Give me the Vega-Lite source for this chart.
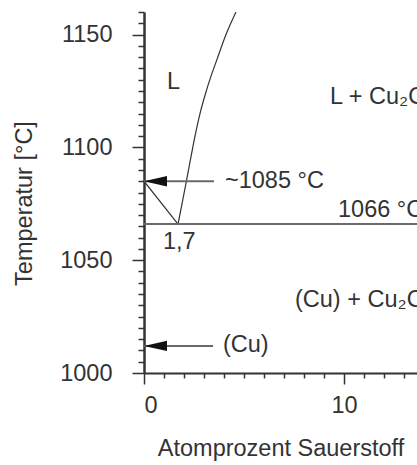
{
  "$schema": "https://vega.github.io/schema/vega-lite/v6.json",
  "width": 273,
  "height": 361,
  "autosize": "none",
  "padding": {"left": 144, "top": 12, "right": 0, "bottom": 92},
  "background": "white",
  "config": {"view": {"stroke": null}, "font": "Liberation Sans", "text": {"font": "Liberation Sans"}},
  "datasets": {
    "thin": [
      {"line": "liquidus", "o": 1, "x": 1.7, "t": 1066},
      {"line": "liquidus", "o": 2, "x": 1.9, "t": 1075},
      {"line": "liquidus", "o": 3, "x": 2.12, "t": 1085},
      {"line": "liquidus", "o": 4, "x": 2.31, "t": 1094},
      {"line": "liquidus", "o": 5, "x": 2.55, "t": 1105},
      {"line": "liquidus", "o": 6, "x": 2.8, "t": 1115},
      {"line": "liquidus", "o": 7, "x": 3.08, "t": 1124},
      {"line": "liquidus", "o": 8, "x": 3.33, "t": 1131},
      {"line": "liquidus", "o": 9, "x": 3.65, "t": 1139},
      {"line": "liquidus", "o": 10, "x": 4.1, "t": 1150},
      {"line": "liquidus", "o": 11, "x": 4.6, "t": 1160},
      {"line": "solidus", "o": 1, "x": 0, "t": 1085},
      {"line": "solidus", "o": 2, "x": 1.7, "t": 1066}
    ],
    "thick": [
      {"line": "eutectic", "o": 1, "x": 0, "t": 1066},
      {"line": "eutectic", "o": 2, "x": 13.65, "t": 1066},
      {"line": "arrow1085", "o": 1, "x": 0, "t": 1085},
      {"line": "arrow1085", "o": 2, "x": 3.5, "t": 1085},
      {"line": "arrowCu", "o": 1, "x": 0, "t": 1012},
      {"line": "arrowCu", "o": 2, "x": 3.45, "t": 1012}
    ],
    "heads": [
      {"x": 0, "t": 1085},
      {"x": 0, "t": 1012}
    ],
    "labels": [
      {"x": 1.15, "t": 1129, "label": "L"},
      {"x": 9.3, "t": 1122.3, "label": "L + Cu₂O"},
      {"x": 4.05, "t": 1085, "label": "~1085 °C"},
      {"x": 9.7, "t": 1072.3, "label": "1066 °C"},
      {"x": 0.95, "t": 1058, "label": "1,7"},
      {"x": 7.55, "t": 1032.4, "label": "(Cu) + Cu₂O"},
      {"x": 3.95, "t": 1012.4, "label": "(Cu)"}
    ]
  },
  "layer": [
    {
      "data": {"name": "thin"},
      "mark": {"type": "line", "color": "#333333", "strokeWidth": 1.2, "clip": true, "interpolate": "monotone"},
      "encoding": {
        "x": {"field": "x", "type": "quantitative", "scale": {"domain": [0, 13.65], "nice": false, "zero": false},
          "axis": {"orient": "bottom", "title": "Atomprozent Sauerstoff", "values": [0, 10], "format": "d", "grid": false,
            "domainColor": "#333333", "domainWidth": 2, "tickColor": "#333333", "tickWidth": 1.5, "tickSize": 11,
            "labelFontSize": 23.5, "labelColor": "#333333", "labelPadding": 9, "labelFont": "Liberation Sans",
            "titleFontSize": 23.5, "titleFontWeight": "normal", "titleColor": "#333333", "titlePadding": 20, "titleFont": "Liberation Sans"}},
        "y": {"field": "t", "type": "quantitative", "scale": {"domain": [1000, 1160], "nice": false, "zero": false},
          "axis": {"orient": "left", "title": "Temperatur [°C]", "values": [1000, 1050, 1100, 1150], "format": "d", "grid": false,
            "domainColor": "#333333", "domainWidth": 2.5, "tickColor": "#333333", "tickWidth": 1.5, "tickSize": 12,
            "labelFontSize": 23.5, "labelColor": "#333333", "labelPadding": 20, "labelFont": "Liberation Sans",
            "titleFontSize": 23.5, "titleFontWeight": "normal", "titleColor": "#333333", "titlePadding": 23, "titleY": 191, "titleFont": "Liberation Sans"}},
        "detail": {"field": "line"},
        "order": {"field": "o"}
      }
    },
    {
      "data": {"name": "thick"},
      "mark": {"type": "line", "color": "#6a6a6a", "strokeWidth": 2, "clip": true},
      "encoding": {
        "x": {"field": "x", "type": "quantitative",
          "axis": {"orient": "bottom", "title": null, "values": [1, 2, 3, 4, 5, 6, 7, 8, 9, 11, 12, 13], "labels": false, "domain": false, "grid": false,
            "tickColor": "#333333", "tickWidth": 1.5, "tickSize": 5}},
        "y": {"field": "t", "type": "quantitative",
          "axis": {"orient": "left", "title": null, "values": [1005, 1010, 1015, 1020, 1025, 1030, 1035, 1040, 1045, 1055, 1060, 1065, 1070, 1075, 1080, 1085, 1090, 1095, 1105, 1110, 1115, 1120, 1125, 1130, 1135, 1140, 1145, 1155, 1160], "labels": false, "domain": false, "grid": false,
            "tickColor": "#333333", "tickWidth": 1.5, "tickSize": 6}},
        "detail": {"field": "line"},
        "order": {"field": "o"}
      }
    },
    {
      "data": {"name": "heads"},
      "mark": {"type": "point", "shape": "M 0 0 L 2 -0.45 L 2 0.45 Z", "size": 529, "filled": true, "color": "#111111", "opacity": 1, "strokeWidth": 0},
      "encoding": {
        "x": {"field": "x", "type": "quantitative", "axis": null},
        "y": {"field": "t", "type": "quantitative", "axis": null}
      }
    },
    {
      "data": {"name": "labels"},
      "mark": {"type": "text", "align": "left", "baseline": "middle", "fontSize": 23.5, "color": "#333333", "clip": true, "font": "Liberation Sans"},
      "encoding": {
        "x": {"field": "x", "type": "quantitative", "axis": null},
        "y": {"field": "t", "type": "quantitative", "axis": null},
        "text": {"field": "label"}
      }
    }
  ],
  "resolve": {"axis": {"x": "independent", "y": "independent"}}
}
